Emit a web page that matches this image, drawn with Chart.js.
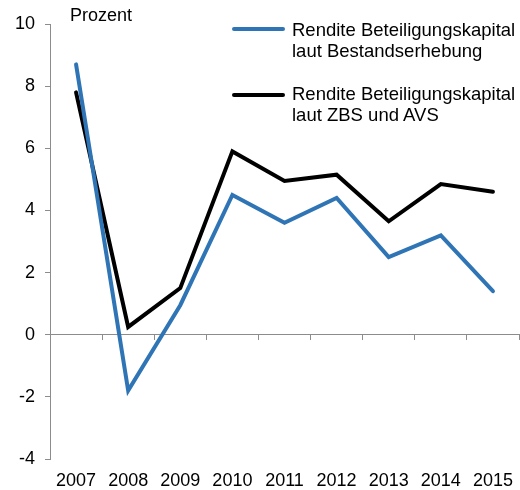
<!DOCTYPE html>
<html>
<head>
<meta charset="utf-8">
<script src="https://cdn.jsdelivr.net/npm/chart.js@4/dist/chart.umd.min.js"></script>
<style>
    body { margin: 0; background: #fff; }
    .wrap { position: relative; width: 520px; height: 490px; font-family: "Liberation Sans", Arial, sans-serif; color: #000; }
    canvas { position: absolute; left: 0; top: 0; }
    .unit { position: absolute; left: 70px; top: 5px; font-size: 18px; line-height: 21px; }
    .leg { position: absolute; left: 232px; }
    .leg .swatch { position: absolute; left: 0; width: 53px; height: 4px; border-radius: 2px; }
    .leg .txt { position: absolute; left: 60px; width: 240px; font-size: 18.5px; line-height: 21px; white-space: nowrap; }
</style>
</head>
<body>
<div class="wrap">
    <canvas id="chart1" width="520" height="490"></canvas>
    <div class="unit">Prozent</div>
    <div class="leg" style="top:0px">
        <div class="swatch" style="top:27px;background:#2f75b5"></div>
        <div class="txt" style="top:19px">Rendite Beteiligungskapital<br>laut Bestandserhebung</div>
    </div>
    <div class="leg" style="top:0px">
        <div class="swatch" style="top:93px;background:#000"></div>
        <div class="txt" style="top:83px">Rendite Beteiligungskapital<br>laut ZBS und AVS</div>
    </div>
</div>
<script>
const years = ["2007", "2008", "2009", "2010", "2011", "2012", "2013", "2014", "2015"]
const bestand = [8.7, -1.8, 0.95, 4.5, 3.6, 4.4, 2.5, 3.2, 1.4]
const zbsAvs = [7.8, 0.25, 1.5, 5.9, 4.95, 5.15, 3.65, 4.85, 4.6]
const seriesNames = ["Rendite Beteiligungskapital laut Bestandserhebung", "Rendite Beteiligungskapital laut ZBS und AVS"]

const axisGrey = "#8c8c8c"
const font = { family: "'Liberation Sans', Arial, sans-serif", size: 18 }

const ctx = document.getElementById("chart1")

new Chart(ctx, {
    type: 'line',
    data: {
        labels: years,
        datasets: [{
            label: seriesNames[0],
            data: bestand,
            borderColor: "#2f75b5",
            borderWidth: 4,
            tension: 0,
            pointRadius: 0,
            borderJoinStyle: 'miter',
            borderCapStyle: 'round',
            xAxisID: 'x'
        }, {
            label: seriesNames[1],
            data: zbsAvs,
            borderColor: "#000000",
            borderWidth: 4,
            tension: 0,
            pointRadius: 0,
            borderJoinStyle: 'miter',
            borderCapStyle: 'round',
            xAxisID: 'x'
        }]
    },
    options: {
        responsive: false,
        animation: false,
        events: [],
        layout: { padding: { top: 24, right: 1, left: 0, bottom: 0 } },
        plugins: { legend: { display: false }, tooltip: { enabled: false } },
        scales: {
            x: {
                type: 'category',
                position: { y: 0 },
                offset: true,
                grid: { offset: true, drawOnChartArea: false, drawTicks: true, tickLength: 5, color: axisGrey },
                border: { display: true, color: axisGrey, width: 1 },
                ticks: { display: false },
                afterFit: function (scale) { scale.paddingLeft = 0; scale.paddingRight = 0 }
            },
            x2: {
                type: 'category',
                position: 'bottom',
                offset: true,
                grid: { display: false, drawTicks: false },
                border: { display: false },
                ticks: { color: "#000", font: font, padding: 11, maxRotation: 0, autoSkip: false },
                afterFit: function (scale) {
                    scale.height = 31
                    scale.paddingLeft = 0
                    scale.paddingRight = 0
                }
            },
            y: {
                min: -4,
                max: 10,
                ticks: { stepSize: 2, color: "#000", font: font, padding: 10 },
                grid: { drawOnChartArea: false, drawTicks: true, tickLength: 5, color: axisGrey },
                border: { display: true, color: axisGrey, width: 1 },
                afterFit: function (scale) { scale.width = 50 }
            }
        }
    }
})
</script>
</body>
</html>
